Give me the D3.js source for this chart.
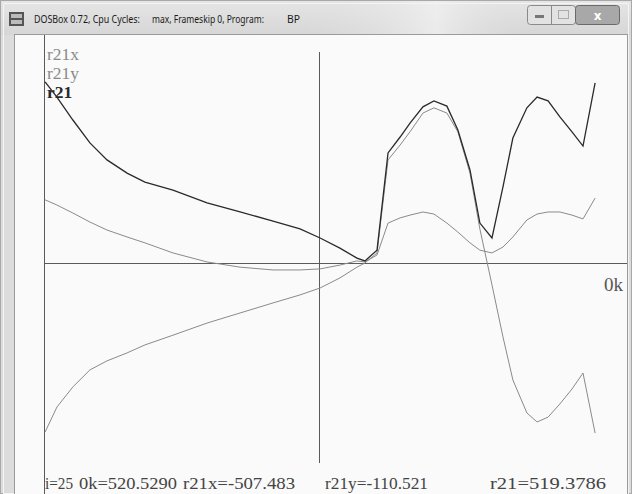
<!DOCTYPE html>
<html><head><meta charset="utf-8">
<script src="https://cdn.jsdelivr.net/npm/d3@7"></script>
<style>html,body{margin:0;padding:0;background:#fff;overflow:hidden}</style>
</head><body>
<script>
// ---- data ----
const kValues = [-0.996,-0.953,-0.895,-0.833,-0.771,-0.698,-0.633,-0.531,-0.407,-0.287,-0.167,-0.069,0.004,0.076,0.138,0.167,
  0.211,0.251,0.295,0.331,0.378,0.418,0.465,0.505,0.549,0.585,0.629,0.669,0.705,0.756,0.793,0.833,0.876,0.920,0.960,1.004];
const r21x = [-487,-415,-357,-308,-282,-259,-236,-208,-173,-144,-115,-92,-72,-43,-12,0,
  29,297,340,378,432,447,432,378,259,98,-63,-213,-337,-432,-458,-444,-406,-363,-317,-490];
const r21y = [182,167,144,118,95,75,58,29,3,-12,-20,-20,-17,-6,6,3,
  23,115,130,138,147,141,115,89,58,37,29,46,75,124,141,147,147,138,127,187];
const r21 = [522,478,412,346,297,259,233,210,173,147,121,98,72,43,14,6,
  37,317,363,403,450,467,452,383,268,115,72,219,360,447,478,467,421,378,337,519];
const seriesNames = ["r21x","r21y","r21"];
const statusLabels = ["i=25","0k=520.5290","r21x=-507.483","r21y=-110.521","r21=519.3786"];
const axisLabel = "0k";
const titleParts = ["DOSBox 0.72, Cpu Cycles:","max, Frameskip  0, Program:","BP"];

// ---- layout ----
const W=632,H=494;
const svg=d3.select("body").append("svg").attr("width",W).attr("height",H);

// window frame
svg.append("rect").attr("x",0).attr("y",0).attr("width",W).attr("height",H).attr("fill","#dcdcdc");
const defs=svg.append("defs");
const g1=defs.append("linearGradient").attr("id","tb").attr("x1",0).attr("y1",0).attr("x2",0).attr("y2",1);
g1.append("stop").attr("offset","0").attr("stop-color","#e6e6e6");
g1.append("stop").attr("offset","1").attr("stop-color","#d6d6d6");
const g2=defs.append("linearGradient").attr("id","tb2").attr("x1",0).attr("y1",0).attr("x2",1).attr("y2",0);
g2.append("stop").attr("offset","0").attr("stop-color","#d8d8d8").attr("stop-opacity",0);
g2.append("stop").attr("offset","0.6").attr("stop-color","#f0f0f0").attr("stop-opacity",0.8);
g2.append("stop").attr("offset","1").attr("stop-color","#d8d8d8").attr("stop-opacity",0);
svg.append("rect").attr("x",0).attr("y",0).attr("width",W).attr("height",35).attr("fill","url(#tb)");
svg.append("rect").attr("x",280).attr("y",0).attr("width",260).attr("height",35).attr("fill","url(#tb2)");
svg.append("rect").attr("x",0.5).attr("y",0.5).attr("width",W-1).attr("height",H-1).attr("fill","none").attr("stroke","#a8a8a8");
svg.append("rect").attr("x",3.5).attr("y",3.5).attr("width",W-7).attr("height",H-4).attr("fill","none").attr("stroke","#f4f4f4");
// icon
const ic=svg.append("g").attr("transform","translate(9,12)");
ic.append("rect").attr("width",15).attr("height",14).attr("fill","#555");
ic.append("rect").attr("x",2).attr("y",2).attr("width",11).attr("height",4).attr("fill","#bbb");
ic.append("rect").attr("x",2).attr("y",8).attr("width",11).attr("height",4).attr("fill","#bbb");
// title
const tx=[34,152,287], tw=[106,112,13];
titleParts.forEach((t,i)=>svg.append("text").attr("x",tx[i]).attr("y",23).attr("font-family","Noto Sans, Open Sans, sans-serif")
  .attr("font-size",10.3).attr("fill","#1a1a1a").attr("textLength",tw[i]).attr("lengthAdjust","spacingAndGlyphs").text(t));
// buttons
const btn=svg.append("g");
btn.append("rect").attr("x",527.5).attr("y",5.5).attr("width",48).attr("height",19).attr("rx",3).attr("fill","#e2e2e2").attr("stroke","#8a8a8a");
btn.append("line").attr("x1",551.5).attr("x2",551.5).attr("y1",6).attr("y2",24).attr("stroke","#8a8a8a");
btn.append("rect").attr("x",535).attr("y",15).attr("width",9).attr("height",3).attr("fill","#777");
btn.append("rect").attr("x",558.5).attr("y",10.5).attr("width",10).attr("height",8).attr("fill","none").attr("stroke","#aaa");
btn.append("rect").attr("x",575.5).attr("y",5.5).attr("width",44).attr("height",19).attr("rx",3).attr("fill","#a8a8a8").attr("stroke","#6a6a6a");
btn.append("text").attr("x",597.5).attr("y",20).attr("text-anchor","middle").attr("font-family","DejaVu Sans, sans-serif")
  .attr("font-weight","bold").attr("font-size",12).attr("fill","#fff").text("x");

// content area
svg.append("rect").attr("x",14.5).attr("y",34.5).attr("width",613).attr("height",462).attr("fill","#fafafa").attr("stroke","#9a9a9a");

// scales
const x=d3.scaleLinear().domain([-1,1]).range([44,594]);
const y=d3.scaleLinear().domain([-654,654]).range([490,36]);
const axisColor="#5a5a5a";

// plot left border
svg.append("line").attr("x1",44.5).attr("x2",44.5).attr("y1",35).attr("y2",494).attr("stroke",axisColor);
// horizontal axis at 0
svg.append("line").attr("x1",44).attr("x2",627).attr("y1",Math.round(y(0))+0.5).attr("y2",Math.round(y(0))+0.5).attr("stroke",axisColor);
// vertical axis at k=0
svg.append("line").attr("x1",Math.round(x(0))+0.5).attr("x2",Math.round(x(0))+0.5).attr("y1",52).attr("y2",463).attr("stroke",axisColor);

// series
const line=d3.line().x((d,i)=>x(kValues[i])).y(d=>y(d));
const series=[{name:"r21x",vals:r21x,color:"#8a8a8a",w:1},{name:"r21y",vals:r21y,color:"#8a8a8a",w:1},{name:"r21",vals:r21,color:"#2a2a2a",w:1.3}];
series.forEach(s=>svg.append("path").attr("d",line(s.vals)).attr("fill","none").attr("stroke",s.color).attr("stroke-width",s.w));

// legend
const legY=[60,79,98];
seriesNames.forEach((n,i)=>svg.append("text").attr("x",47).attr("y",legY[i]).attr("font-family","Liberation Serif, DejaVu Serif, serif")
  .attr("font-size",17.5).attr("font-weight",i===2?"bold":"normal").attr("fill",series[i].color).text(n));

// axis label
svg.append("text").attr("x",623).attr("y",291).attr("text-anchor","end").attr("font-family","Liberation Serif, DejaVu Serif, serif")
  .attr("font-size",19).attr("fill","#555").text(axisLabel);

// status line
const sx=[45,79,183,325,490], sw=[28,98,112,103,116];
statusLabels.forEach((t,i)=>svg.append("text").attr("x",sx[i]).attr("y",489).attr("font-family","Liberation Serif, DejaVu Serif, serif")
  .attr("font-size",16).attr("fill","#444").attr("textLength",sw[i]).attr("lengthAdjust","spacingAndGlyphs").text(t));
</script>
</body></html>
